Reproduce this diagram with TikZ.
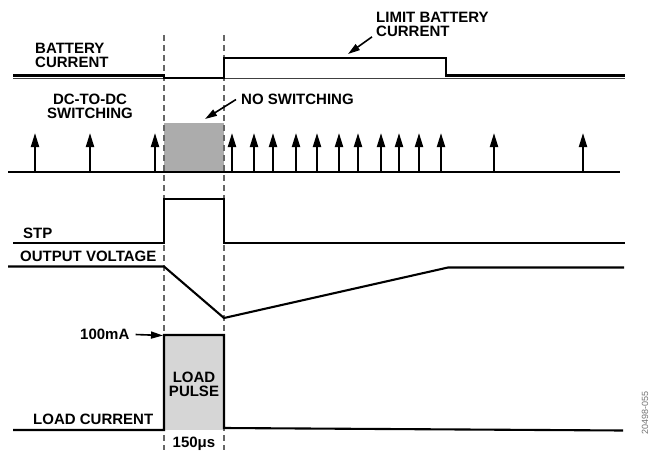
\documentclass[tikz,border=0pt]{standalone}
\usepackage{fontspec}
\setmainfont{Liberation Sans}
\usetikzlibrary{arrows.meta}

\begin{document}
\begin{tikzpicture}[x=1pt,y=-1pt,
  sig/.style={line width=2.1pt,line join=miter},
  zeroline/.style={line width=1.2pt},
  guide/.style={line width=1.1pt,gray!80!black,dash pattern=on 6pt off 4pt},
  lbl/.style={font=\fontsize{15}{14}\selectfont\bfseries,inner sep=0pt},
  pointer/.style={line width=1.6pt,-{Triangle[length=12pt,width=7pt]}},
  tick/.style={line width=2pt,-{Triangle[length=14pt,width=8pt]}}]
  \useasboundingbox (0,0) rectangle (650,452);

  % Shaded regions
  \fill[gray!65] (164,123) rectangle (224,172);
  \fill[gray!32] (164,335) rectangle (224,430);

  % Guides
  \draw[guide] (164,35) -- (164,450);
  \draw[guide] (224,35) -- (224,450);

  % Battery current
  \draw[zeroline,gray!50!black] (13,78.5) -- (625,78.5);
  \draw[sig] (13,75.5) -- (164,75.5) -- (164,78) -- (224,78) -- (224,58)
    -- (446,58) -- (446,75.5) -- (625,75.5);
  \coordinate (limtip) at (348,54);
  \node[lbl,anchor=north west,align=left] (batt) at (35,43) {BATTERY\\CURRENT};
  \node[lbl,anchor=north west,align=left] (limit) at (376,12) {LIMIT BATTERY\\CURRENT};
  \draw[pointer] ([xshift=-4pt]limit.south west) -- (limtip);

  % DC-to-DC switching
  \draw[zeroline] (8,172) -- (620,172);
  \foreach \x in {35,90,155,232,254,273,296,317,339,358,381,399,419,441,494,583}
    \draw[tick] (\x,172) -- (\x,133);
  \coordinate (notip) at (205,119);
  \node[lbl,anchor=north,align=center] (dcdc) at (90,94) {DC-TO-DC\\SWITCHING};
  \node[lbl,anchor=north west] (nosw) at (241,94) {NO SWITCHING};
  \draw[pointer] ([xshift=-5pt]nosw.west) -- (notip);

  % STP
  \draw[sig] (13,243) -- (164,243) -- (164,199) -- (224,199) -- (224,243) -- (625,243);
  \node[lbl,anchor=north west] (stp) at (23,228) {STP};

  % Output voltage
  \draw[sig] (8,266.5) -- (164,266.5) -- (224,318) -- (448,267.5) -- (624,267.5);
  \node[lbl,anchor=north west] (vout) at (20,251) {OUTPUT VOLTAGE};

  % Load current
  \draw[sig] (13,430) -- (164,430) -- (164,335) -- (224,335) -- (224,428) -- (623,430.5);
  \coordinate (pulsetop) at (163,335.5);
  \node[lbl,anchor=north west] (peak) at (80,329) {100mA};
  \draw[pointer] ([xshift=6pt]peak.east) -- (pulsetop);
  \node[lbl,anchor=north,align=center] (pulse) at (194,372) {LOAD\\PULSE};
  \node[lbl,anchor=north west] (iload) at (33,414) {LOAD CURRENT};
  \node[lbl,anchor=north] (width) at (194,437) {150μs};

  \node[rotate=90,font=\fontsize{9}{9}\selectfont,text=gray!90!black,inner sep=0pt] (figid) at (645,413) {20498-055};
\end{tikzpicture}
\end{document}
